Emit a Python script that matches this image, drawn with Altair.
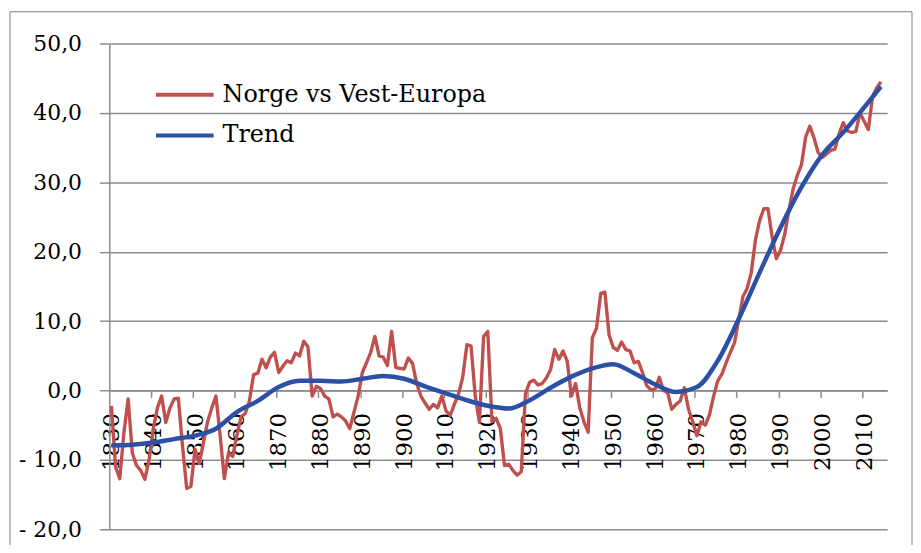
import altair as alt
import pandas as pd

# ---------------- data ----------------
years = list(range(1830, 2015))
norge = [
    -2.2, -11.0, -12.7, -6.0, -1.2, -9.0, -10.8, -11.5, -12.8, -10.0,   # 1830-1839
    -5.5, -2.5, -0.8, -4.6, -2.5, -1.2, -1.1, -8.0, -14.1, -13.8,       # 1840-1849
    -8.5, -10.5, -7.5, -4.5, -2.5, -0.8, -6.5, -12.7, -9.0, -9.5,       # 1850-1859
    -6.5, -3.8, -3.3, -1.5, 2.3, 2.5, 4.5, 3.3, 4.8, 5.5,               # 1860-1869
    2.6, 3.5, 4.3, 4.0, 5.4, 5.0, 7.1, 6.3, -0.8, 0.6,                  # 1870-1879
    0.3, -0.8, -1.2, -3.8, -3.4, -3.8, -4.4, -5.5, -3.1, -0.8,          # 1880-1889
    2.6, 4.0, 5.5, 7.8, 5.0, 4.8, 3.6, 8.5, 3.3, 3.2,                   # 1890-1899
    3.1, 4.7, 3.9, 1.0, -0.8, -1.8, -2.7, -2.0, -2.5, -0.8,             # 1900-1909
    -2.9, -3.6, -2.0, -0.5, 1.9, 6.6, 6.4, -0.8, -4.6, 7.8,             # 1910-1919
    8.5, -4.5, -4.0, -5.5, -10.8, -10.6, -11.5, -12.2, -11.7, -0.5,     # 1920-1929
    1.2, 1.5, 0.8, 1.0, 1.8, 3.0, 5.9, 4.5, 5.7, 4.2,                   # 1930-1939
    -0.8, 1.0, -2.5, -4.5, -6.0, 7.6, 9.0, 14.0, 14.2, 8.0,             # 1940-1949
    6.2, 5.8, 7.0, 5.9, 5.7, 4.0, 4.2, 2.6, 0.7, 0.1,                   # 1950-1959
    0.2, 1.9, 0.0, -0.3, -2.7, -2.0, -1.5, 0.4, -2.7, -4.5,             # 1960-1969
    -6.5, -4.5, -5.0, -3.5, -0.8, 1.4, 2.4, 4.0, 5.5, 6.9,              # 1970-1979
    10.2, 13.5, 14.7, 17.0, 21.7, 24.5, 26.2, 26.2, 22.1, 19.0,         # 1980-1989
    20.2, 22.5, 26.0, 29.0, 31.0, 32.5, 36.5, 38.1, 36.4, 34.3,         # 1990-1999
    33.6, 34.1, 34.6, 34.8, 37.0, 38.6, 37.4, 37.2, 37.3, 40.0,         # 2000-2009
    38.8, 37.6, 42.4, 43.6, 44.5,                                       # 2010-2014
]
trend_years = [1830, 1835, 1840, 1845, 1850, 1855, 1860, 1865, 1870, 1875,
               1880, 1885, 1890, 1895, 1900, 1905, 1910, 1915, 1920, 1925,
               1930, 1935, 1940, 1945, 1950, 1955, 1960, 1965, 1970, 1975,
               1980, 1985, 1990, 1995, 2000, 2005, 2010, 2014]
trend_vals = [-7.9, -7.8, -7.5, -7.0, -6.5, -5.5, -3.1, -1.5, 0.5, 1.4,
              1.4, 1.3, 1.7, 2.1, 1.7, 0.6, -0.4, -1.4, -2.2, -2.6,
              -1.4, 0.4, 2.0, 3.2, 3.8, 2.5, 0.9, -0.2, 0.5, 4.3,
              10.3, 17.0, 23.5, 29.3, 34.0, 37.2, 40.8, 43.8]
series_names = ["Norge vs Vest-Europa", "Trend"]
x_label_years = list(range(1830, 2011, 10))
x_tick_pos = [1839.5, 1849.5, 1859.5, 1869.5, 1879.5, 1889.5, 1899.5, 1909.5, 1919.5,
              1929.5, 1939.5, 1949.5, 1959.5, 1969.5, 1979.5, 1989.5, 1999.5, 2009.5]
y_ticks = [-20, -10, 0, 10, 20, 30, 40, 50]

df = pd.DataFrame({"year": years, "value": norge, "series": series_names[0]})
tdf = pd.DataFrame({"year": trend_years, "value": trend_vals, "series": series_names[1]})

# ---------------- style ----------------
W, H = 783, 489
FONT = "DejaVu Serif"
GRAY = "#8C8C8C"
Y_MIN, Y_MAX = -20, 50
zero_offset = -H * (0 - Y_MIN) / (Y_MAX - Y_MIN)

xscale = alt.Scale(domain=[1829.5, 2015.5], nice=False, zero=False)
yscale = alt.Scale(domain=[Y_MIN, Y_MAX], nice=False, zero=False)

y_label_expr = ("datum.value < 0 ? '- ' + replace(format(-datum.value, '.1f'), '.', ',') "
                ": replace(format(datum.value, '.1f'), '.', ',')")

y_axis = alt.Axis(values=y_ticks, title=None, orient="left", grid=True,
                  gridColor=GRAY, gridWidth=1.5, domainColor=GRAY, domainWidth=1.5,
                  tickColor=GRAY, tickWidth=1.5, tickSize=10, labelPadding=18,
                  labelFont=FONT, labelFontSize=22, labelColor="black",
                  labelExpr=y_label_expr)

x_label_axis = alt.Axis(values=x_label_years, title=None, orient="bottom", offset=zero_offset,
                        grid=False, ticks=False, domain=True, domainColor=GRAY, domainWidth=1.5,
                        labelAngle=-90, labelAlign="right", labelBaseline="middle",
                        labelPadding=22, labelFont=FONT, labelFontSize=23, labelColor="black",
                        labelOverlap=False, labelFlush=False, format="d")

x_tick_axis = alt.Axis(values=x_tick_pos, title=None, orient="bottom", offset=zero_offset,
                       grid=False, labels=False, domain=False, ticks=True,
                       tickColor=GRAY, tickWidth=1.5, tickSize=7)

color = alt.Color("series:N",
                  scale=alt.Scale(domain=series_names, range=["#C0504D", "#2B50A5"]),
                  legend=alt.Legend(orient="none", legendX=45, legendY=31, title=None,
                                    symbolType="stroke", symbolSize=3364, symbolStrokeWidth=4,
                                    labelFont=FONT, labelFontSize=24, labelColor="black",
                                    labelOffset=7, clipHeight=41, rowPadding=0, padding=0,
                                    labelLimit=500))

red = alt.Chart(df).mark_line(strokeWidth=3.4, strokeJoin="round").encode(
    x=alt.X("year:Q", scale=xscale, axis=x_label_axis),
    y=alt.Y("value:Q", scale=yscale, axis=y_axis),
    color=color,
)

trend = alt.Chart(tdf).mark_line(strokeWidth=4.5, interpolate="monotone").encode(
    x=alt.X("year:Q", scale=xscale, axis=x_tick_axis),
    y=alt.Y("value:Q", scale=yscale, axis=y_axis),
    color=color,
)

frame = alt.Chart(alt.Data(values=[{"f": 1}])).mark_rect(
    fill=None, stroke="#7F7F7F", strokeWidth=1).encode(
    x=alt.value(-100), x2=alt.value(W + 25), y=alt.value(-32), y2=alt.value(H + 60))

chart = alt.layer(frame, red, trend).resolve_axis(x="independent").properties(
    width=W, height=H,
    padding={"left": 102, "top": 34, "right": 26, "bottom": 14},
    autosize=alt.AutoSizeParams(type="none"),
    background="white",
).configure_view(stroke=None)

chart.save("out.html", embed_options={"renderer": "svg", "actions": False})
